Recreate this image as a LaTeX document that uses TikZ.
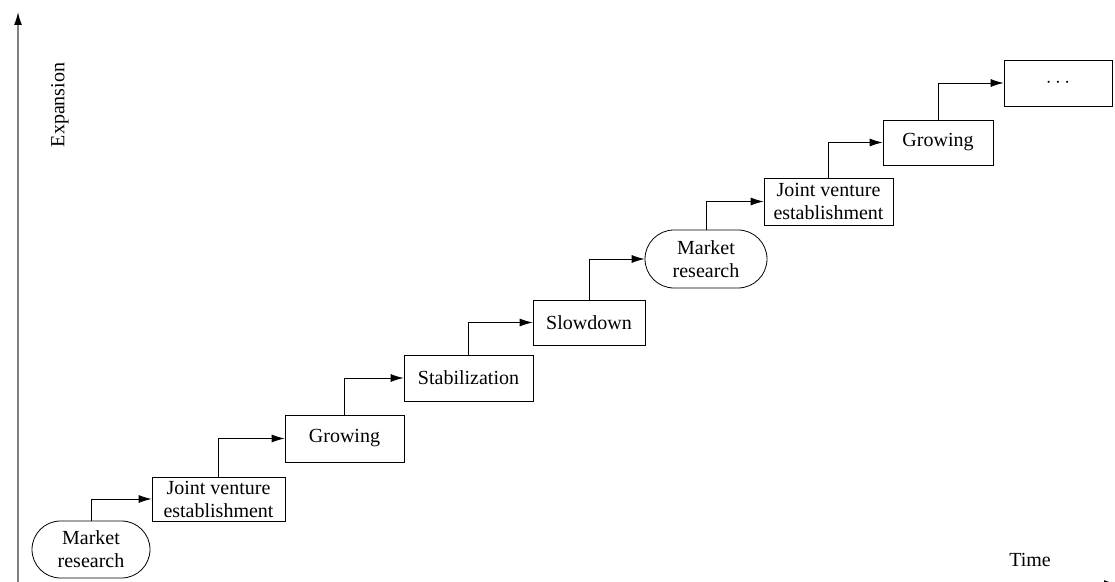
\documentclass[tikz,border=0pt]{standalone}
\usepackage{fontspec}
\setmainfont{Liberation Serif}
\newfontfamily\timesfont{Liberation Serif}
\usetikzlibrary{arrows.meta,shapes.misc}

\tikzset{
	stage/.style={draw, line width=0.8pt, align=center, inner sep=2pt,
		font=\timesfont\fontsize{20}{23}\selectfont},
	survey/.style={stage, rounded rectangle},
	link/.style={line width=0.8pt, -{Latex[length=13pt,width=8pt]}},
	axis/.style={line width=1.4pt, gray, -{Latex[length=13pt,width=8pt,color=black]}}
}

\begin{document}
\begin{tikzpicture}[x=1pt,y=1pt]
			\useasboundingbox (0,0) rectangle (1115,581);
			% axes
			\coordinate (o) at (18,-3);
			\coordinate (ytop) at (18,569);
			\coordinate (xend) at (1117,-3);
			\draw[axis] (o)--(ytop);
			\draw[axis, black] (o)--(xend);
			\node[rotate=90, font=\timesfont\fontsize{20}{23}\selectfont] (ylab) at(60,476) {Expansion};
			\node[font=\timesfont\fontsize{20}{23}\selectfont] (xlab) at(1030,21) {Time};
			% stages
			\node[survey, minimum width=122pt, minimum height=57pt] (mr1) at(91,31.5) {Market\\research};
			\node[stage, minimum width=133pt, minimum height=44pt] (jv1) at(218.5,82) {Joint venture\\establishment};
			\node[stage, minimum width=119pt, minimum height=47pt] (gr1) at(344.5,142.5) {Growing};
			\node[stage, minimum width=129pt, minimum height=46pt] (st) at(468.5,203) {Stabilization};
			\node[stage, minimum width=112pt, minimum height=45pt] (sd) at(589,258.5) {Slowdown};
			\node[survey, minimum width=126pt, minimum height=58pt] (mr2) at(706,322) {Market\\research};
			\node[stage, minimum width=129pt, minimum height=47pt] (jv2) at(828.5,379.5) {Joint venture\\establishment};
			\node[stage, minimum width=110pt, minimum height=45pt] (gr2) at(938,438.5) {Growing};
			\node[stage, minimum width=108pt, minimum height=46pt] (etc) at(1058,498) {$\cdots$};
			% steps
			\draw[link] (mr1.north) |- (jv1.west);
			\draw[link] (jv1.north) |- (gr1.west);
			\draw[link] (gr1.north) |- (st.west);
			\draw[link] (st.north) |- (sd.west);
			\draw[link] (sd.north) |- (mr2.west);
			\draw[link] (mr2.north) |- (jv2.west);
			\draw[link] (jv2.north) |- (gr2.west);
			\draw[link] (gr2.north) |- (etc.west);
		\end{tikzpicture}
\end{document}
